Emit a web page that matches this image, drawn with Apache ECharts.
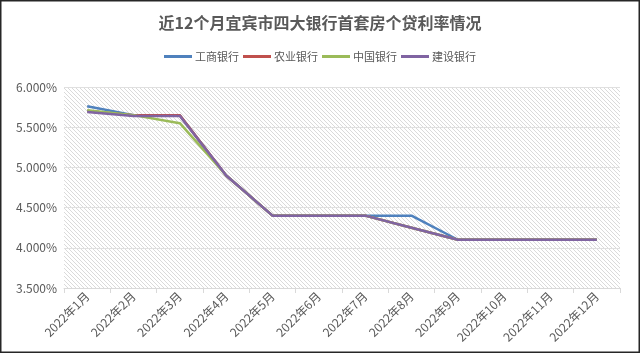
<!DOCTYPE html>
<html>
<head>
<meta charset="utf-8">
<script src="https://cdn.jsdelivr.net/npm/echarts@6/dist/echarts.min.js"></script>
<style>
  html, body { margin: 0; padding: 0; background: #fff; }
  #main { width: 640px; height: 353px; }
</style>
</head>
<body>
<div id="main"></div>
<script>
// months on the x axis
const months = ['2022年1月', '2022年2月', '2022年3月', '2022年4月', '2022年5月', '2022年6月',
  '2022年7月', '2022年8月', '2022年9月', '2022年10月', '2022年11月', '2022年12月'];

// first-home loan rate (%) per bank
const icbc = [5.76, 5.65, 5.65, 4.90, 4.40, 4.40, 4.40, 4.40, 4.10, 4.10, 4.10, 4.10];
const abc  = [5.70, 5.65, 5.65, 4.90, 4.40, 4.40, 4.40, 4.25, 4.10, 4.10, 4.10, 4.10];
const boc  = [5.71, 5.65, 5.55, 4.90, 4.40, 4.40, 4.40, 4.25, 4.10, 4.10, 4.10, 4.10];
const ccb  = [5.69, 5.64, 5.64, 4.90, 4.40, 4.40, 4.40, 4.25, 4.10, 4.10, 4.10, 4.10];

const bankNames = ['工商银行', '农业银行', '中国银行', '建设银行'];
const bankColors = ['#4f81bd', '#c0504d', '#9bbb59', '#8064a2'];

// diagonal hatch for the plot area
const hatch = document.createElement('canvas');
hatch.width = 4; hatch.height = 4;
const hctx = hatch.getContext('2d');
hctx.fillStyle = '#ffffff';
hctx.fillRect(0, 0, 4, 4);
hctx.fillStyle = '#dadada';
for (let i = 0; i < 4; i++) hctx.fillRect(i, i, 1, 1);

const font = '"Noto Sans CJK SC", "Microsoft YaHei", sans-serif';
const textColor = '#595959';

const myChart = echarts.init(document.getElementById('main'));

const chartOption = {
  animation: false,
  backgroundColor: '#ffffff',
  textStyle: { fontFamily: font },
  title: {
    text: '近12个月宜宾市四大银行首套房个贷利率情况',
    left: 'center',
    top: 10,
    textStyle: { fontSize: 16, fontWeight: 'bold', color: textColor, fontFamily: font }
  },
  legend: {
    top: 46,
    left: 'center',
    itemWidth: 28,
    itemHeight: 3,
    itemGap: 4,
    icon: 'rect',
    textStyle: { fontSize: 11, color: textColor, fontFamily: font, padding: [0, 0, 0, -2] },
    data: bankNames
  },
  grid: {
    left: 64, right: 20, top: 87, bottom: 65,
    show: true,
    borderWidth: 0,
    backgroundColor: { image: hatch, repeat: 'repeat' }
  },
  graphic: [{
    type: 'rect',
    shape: { x: 0.75, y: 0.75, width: 638.5, height: 351.5 },
    style: { fill: 'none', stroke: '#262626', lineWidth: 1.5 },
    z: 100
  }],
  xAxis: {
    type: 'category',
    data: months,
    boundaryGap: true,
    axisLine: { lineStyle: { color: '#d9d9d9' } },
    axisTick: { show: true, length: 5, lineStyle: { color: '#d9d9d9' } },
    axisLabel: { rotate: 45, fontSize: 12, color: textColor, margin: 6, interval: 0, fontFamily: font },
    splitLine: { show: false }
  },
  yAxis: {
    type: 'value',
    min: 3.5,
    max: 6,
    interval: 0.5,
    axisLine: { show: false },
    axisTick: { show: false },
    axisLabel: {
      fontSize: 12, color: textColor, margin: 7, fontFamily: font,
      formatter: (v) => v.toFixed(3) + '%'
    },
    splitLine: { lineStyle: { color: '#e0e0e0', width: 1 } }
  },
  series: [icbc, abc, boc, ccb].map((d, i) => ({
    name: bankNames[i],
    type: 'line',
    data: d,
    color: bankColors[i],
    showSymbol: false,
    symbol: 'none',
    lineStyle: { width: 2.5, color: bankColors[i] }
  }))
};

myChart.setOption(chartOption);
</script>
</body>
</html>
